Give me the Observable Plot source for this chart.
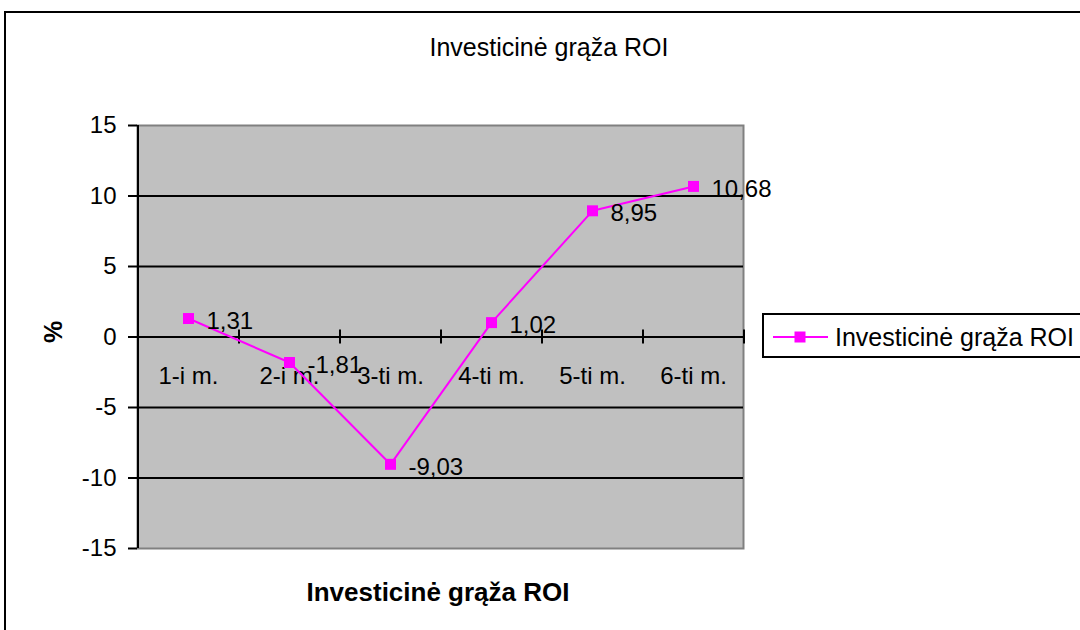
<!DOCTYPE html>
<html><head><meta charset="utf-8">
<script src="https://cdn.jsdelivr.net/npm/d3@7"></script>
<script src="https://cdn.jsdelivr.net/npm/@observablehq/plot@0.6"></script>
<style>
html,body{margin:0;padding:0;background:#fff;}
#chart{position:relative;width:1080px;height:630px;overflow:hidden;}
svg{display:block;}
</style></head><body><div id="chart"></div>
<script>
const categories = ["1-i m.", "2-i m.", "3-ti m.", "4-ti m.", "5-ti m.", "6-ti m."];
const roiValues = [1.31, -1.81, -9.03, 1.02, 8.95, 10.68];
const valueLabels = ["1,31", "-1,81", "-9,03", "1,02", "8,95", "10,68"];
const yTicks = [-15, -10, -5, 0, 5, 10, 15];
const chartTitle = "Investicinė grąža ROI";
const seriesName = "Investicinė grąža ROI";
const xTitle = "Investicinė grąža ROI";
const yTitle = "%";

const data = categories.map((c, i) => ({cat: c, value: roiValues[i], label: valueLabels[i]}));
const W = 1080, H = 630, mL = 137, mR = 1080 - 743, mT = 125, mB = 630 - 548;
const step = (W - mL - mR) / categories.length;
const font = "'Liberation Sans', Arial, sans-serif";
const magenta = "#ff00ff";

const plot = Plot.plot({
  width: W, height: H,
  marginLeft: mL, marginRight: mR, marginTop: mT, marginBottom: mB,
  style: {fontFamily: font, fontSize: "24px", color: "#000", background: "transparent", overflow: "visible"},
  x: {type: "point", domain: categories, padding: 0.5, axis: null},
  y: {domain: [-15, 15], axis: null},
  marks: [
    Plot.frame({fill: "#c0c0c0", stroke: "#808080", strokeWidth: 2}),
    Plot.ruleY(yTicks.filter(v => v > -15 && v < 15), {stroke: "#000", strokeWidth: 2}),
    Plot.ruleX([categories[0]], {dx: -step / 2, y1: -15, y2: 15, stroke: "#000", strokeWidth: 2}),
    Plot.axisY(yTicks, {tickSize: 9, tickPadding: 12, fontSize: 24, strokeWidth: 2, label: null, tickFormat: d => String(d)}),
    Plot.ruleX(categories, {x: d => d, dx: step / 2, y1: -0.5, y2: 0.5, stroke: "#000", strokeWidth: 2}),
    Plot.text(categories, {x: d => d, y: () => 0, text: d => d, dy: 39, fontSize: 24, fill: "#000"}),
    Plot.line(data, {x: "cat", y: "value", stroke: magenta, strokeWidth: 2}),
    Plot.dot(data, {x: "cat", y: "value", symbol: "square", r: 6.2, fill: magenta, stroke: null}),
    Plot.text(data, {x: "cat", y: "value", text: "label", textAnchor: "start", dx: 18, dy: 3, fontSize: 24, fill: "#000"})
  ]
});

document.getElementById("chart").appendChild(plot);
const svg = d3.select(plot);

// outer chart border
svg.insert("rect", ":first-child")
  .attr("x", 5).attr("y", 12).attr("width", 1200).attr("height", 1000)
  .attr("fill", "#fff").attr("stroke", "#000").attr("stroke-width", 2);

// title
svg.append("text").attr("x", 549).attr("y", 56).attr("text-anchor", "middle")
  .attr("font-family", font).attr("font-size", 25).attr("fill", "#000").text(chartTitle);

// x axis title
svg.append("text").attr("x", 438).attr("y", 601).attr("text-anchor", "middle")
  .attr("font-family", font).attr("font-size", 26).attr("font-weight", "bold").attr("fill", "#000").text(xTitle);

// y axis title
svg.append("text").attr("transform", "translate(62,332) rotate(-90)").attr("text-anchor", "middle")
  .attr("font-family", font).attr("font-size", 25).attr("font-weight", "bold").attr("fill", "#000").text(yTitle);

// legend
const lg = svg.append("g");
lg.append("rect").attr("x", 763).attr("y", 314).attr("width", 400).attr("height", 43)
  .attr("fill", "#fff").attr("stroke", "#000").attr("stroke-width", 2);
lg.append("line").attr("x1", 773).attr("x2", 828).attr("y1", 337).attr("y2", 337)
  .attr("stroke", magenta).attr("stroke-width", 2);
lg.append("rect").attr("x", 794.5).attr("y", 331.5).attr("width", 11).attr("height", 11).attr("fill", magenta);
lg.append("text").attr("x", 835).attr("y", 346).attr("text-anchor", "start")
  .attr("font-family", font).attr("font-size", 25).attr("fill", "#000").text(seriesName);
</script></body></html>
